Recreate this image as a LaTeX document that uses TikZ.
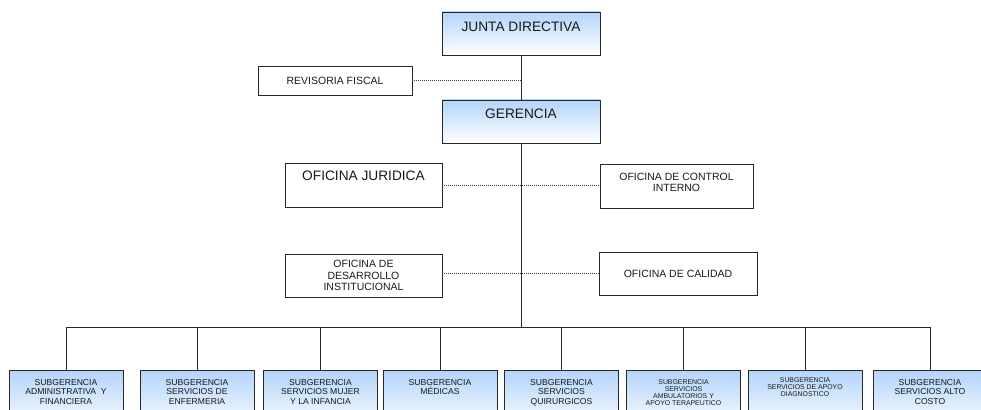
\documentclass[tikz,border=0pt]{standalone}
\usepackage{fontspec}
\setmainfont{Liberation Sans}
\usetikzlibrary{positioning}
\definecolor{boxblue}{RGB}{178,212,250}
\definecolor{boxline}{RGB}{40,40,40}

\begin{document}
\begin{tikzpicture}[
  x=1pt, y=-1pt,
  box/.style={draw=boxline, line width=0.9pt, inner sep=0pt, align=center,
              text=black!90},
  shade/.style={top color=boxblue, bottom color=white},
  head/.style={anchor=north, inner sep=0pt, align=center, text=black!90},
  big/.style={font=\fontsize{13.7pt}{16pt}\selectfont},
  mid/.style={font=\fontsize{10.5pt}{11.5pt}\selectfont},
  small/.style={font=\fontsize{8.6pt}{9.5pt}\selectfont},
  tiny/.style={font=\fontsize{6.9pt}{7pt}\selectfont},
  sub/.style={box, shade, minimum width=114pt, minimum height=60pt, anchor=north},
  link/.style={draw=boxline, line width=0.9pt},
  dots/.style={draw=black!75, line width=0.9pt, dash pattern=on 1pt off 1pt}
]
\useasboundingbox (0,0) rectangle (981,409);
\clip (0,0) rectangle (981,409);

% top of the chart
\node[box, shade, minimum width=158pt, minimum height=43pt,
      label={[head, big, yshift=-9.7pt]north:JUNTA DIRECTIVA}] (jd) at (521,33.5) {};
\node[box, shade, minimum width=158pt, minimum height=43pt,
      label={[head, big, yshift=-9pt]north:GERENCIA}] (ger) at (521,121.5) {};
\node[box, mid, minimum width=154pt, minimum height=29pt] (rf) at (335,80.5)
  {REVISORIA FISCAL};

% staff offices
\node[box, minimum width=157pt, minimum height=44pt,
      label={[head, big, yshift=-7.7pt]north:OFICINA JURIDICA}] (oj) at (363.5,185) {};
\node[box, minimum width=153pt, minimum height=44pt,
      label={[head, mid, yshift=-9pt]north:OFICINA DE CONTROL\\INTERNO}] (ci) at (676.5,186) {};
\node[box, mid, minimum width=157pt, minimum height=43pt] (odi) at (363.5,275.5)
  {OFICINA DE\\DESARROLLO\\INSTITUCIONAL};
\node[box, mid, minimum width=158pt, minimum height=43pt] (oc) at (678,273.5)
  {OFICINA DE CALIDAD};

% subgerencias
\node[sub, label={[head, small, yshift=-9pt]north:SUBGERENCIA\\ADMINISTRATIVA~~Y\\FINANCIERA}] (s1) at (66,370) {};
\node[sub, label={[head, small, yshift=-9pt]north:SUBGERENCIA\\SERVICIOS DE\\ENFERMERIA}] (s2) at (197,370) {};
\node[sub, label={[head, small, yshift=-9pt]north:SUBGERENCIA\\SERVICIOS MUJER\\Y LA INFANCIA}] (s3) at (320.5,370) {};
\node[sub, label={[head, small, yshift=-9pt]north:SUBGERENCIA\\MÉDICAS}] (s4) at (440,370) {};
\node[sub, label={[head, small, yshift=-9pt]north:SUBGERENCIA\\SERVICIOS\\QUIRURGICOS}] (s5) at (561.5,370) {};
\node[sub, label={[head, tiny, yshift=-9.3pt]north:SUBGERENCIA\\SERVICIOS\\AMBULATORIOS Y\\APOYO TERAPEUTICO}] (s6) at (683.5,370) {};
\node[sub, label={[head, tiny, yshift=-7.3pt]north:SUBGERENCIA\\SERVICIOS DE APOYO\\DIAGNOSTICO}] (s7) at (805,370) {};
\node[sub, label={[head, small, yshift=-9pt]north:SUBGERENCIA\\SERVICIOS ALTO\\COSTO}] (s8) at (930,370) {};

\coordinate (bus) at (521,327);

% dotted staff links
\draw[dots] (rf.east) -- (rf.east -| jd.south);
\draw[dots] (oj.east) -- (ci.west |- oj.east);
\draw[dots] (odi.east |- oc.west) -- (oc.west);

% line of command
\draw[link] (jd.south) -- (ger.north);
\draw[link] (ger.south) -- (bus);
\draw[link] (s1.north) -- (s1.north |- bus) -- (s8.north |- bus) -- (s8.north);
\draw[link] (s2.north) -- (s2.north |- bus);
\draw[link] (s3.north) -- (s3.north |- bus);
\draw[link] (s4.north) -- (s4.north |- bus);
\draw[link] (s5.north) -- (s5.north |- bus);
\draw[link] (s6.north) -- (s6.north |- bus);
\draw[link] (s7.north) -- (s7.north |- bus);
\end{tikzpicture}
\end{document}
